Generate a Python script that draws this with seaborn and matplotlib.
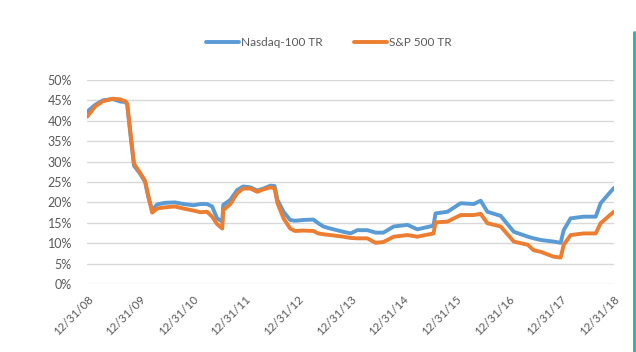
import pandas as pd
import numpy as np
import matplotlib
matplotlib.use("Agg")
import matplotlib.pyplot as plt
from matplotlib.lines import Line2D
from matplotlib.ticker import FuncFormatter
import seaborn as sns

dates = ["2008-12-31", "2009-02-25", "2009-04-20", "2009-06-28", "2009-08-18",
         "2009-09-20", "2009-10-05", "2009-10-26", "2009-11-21", "2010-01-03",
         "2010-02-06", "2010-02-27", "2010-03-27", "2010-04-30", "2010-06-24",
         "2010-09-01", "2010-10-30", "2011-01-07", "2011-02-24", "2011-04-12",
         "2011-05-17", "2011-06-20", "2011-07-26", "2011-08-02", "2011-09-20",
         "2011-11-06", "2011-12-18", "2012-02-05", "2012-03-25", "2012-05-07",
         "2012-06-25", "2012-07-23", "2012-08-12", "2012-09-23", "2012-11-08",
         "2012-12-12", "2013-02-09", "2013-04-18", "2013-05-22", "2013-06-26",
         "2013-08-13", "2013-11-12", "2014-01-01", "2014-02-17", "2014-04-27",
         "2014-06-23", "2014-08-17", "2014-10-27", "2015-01-31", "2015-04-09",
         "2015-07-30", "2015-08-13", "2015-11-04", "2016-02-03", "2016-05-04",
         "2016-06-21", "2016-08-07", "2016-11-07", "2017-02-06", "2017-05-15",
         "2017-06-23", "2017-08-11", "2017-11-10", "2017-12-28", "2018-01-18",
         "2018-03-07", "2018-06-05", "2018-08-28", "2018-10-01", "2018-12-31"]

nasdaq = [42.2, 43.9, 45.0, 45.3, 44.7, 44.6, 44.0, 37.0, 29.0, 27.0,
          25.0, 21.5, 18.0, 19.5, 19.9, 20.0, 19.6, 19.3, 19.6, 19.6,
          19.0, 16.1, 15.3, 19.4, 20.6, 23.0, 23.9, 23.7, 22.9, 23.4,
          24.1, 24.0, 20.6, 17.7, 15.7, 15.5, 15.7, 15.8, 14.9, 14.1,
          13.6, 12.8, 12.4, 13.2, 13.2, 12.6, 12.6, 14.1, 14.5, 13.4,
          14.3, 17.3, 17.7, 19.8, 19.6, 20.4, 17.7, 16.7, 12.8, 11.6,
          11.2, 10.8, 10.4, 10.1, 13.2, 16.1, 16.5, 16.5, 19.8, 23.5]

sp500 = [41.0, 43.5, 44.8, 45.4, 45.2, 44.8, 44.2, 37.5, 29.5, 27.2,
         25.3, 21.8, 17.5, 18.5, 18.8, 19.0, 18.5, 18.0, 17.6, 17.7,
         16.5, 14.7, 13.6, 18.1, 19.6, 22.2, 23.4, 23.4, 22.6, 23.2,
         23.7, 23.4, 19.8, 16.1, 13.6, 13.0, 13.1, 13.0, 12.4, 12.2,
         12.0, 11.6, 11.3, 11.2, 11.2, 10.1, 10.3, 11.6, 12.0, 11.6,
         12.4, 15.1, 15.3, 16.9, 16.9, 17.2, 14.9, 14.1, 10.4, 9.6,
         8.3, 7.9, 6.7, 6.5, 9.6, 12.0, 12.4, 12.4, 14.9, 17.7]

series_names = ["Nasdaq-100 TR", "S&P 500 TR"]
tick_dates = ["2008-12-31", "2009-12-31", "2010-12-31", "2011-12-31", "2012-12-31",
              "2013-12-31", "2014-12-31", "2015-12-31", "2016-12-31", "2017-12-31",
              "2018-12-31"]
tick_labels = ["12/31/08", "12/31/09", "12/31/10", "12/31/11", "12/31/12",
               "12/31/13", "12/31/14", "12/31/15", "12/31/16", "12/31/17",
               "12/31/18"]

df = pd.DataFrame({
    "Date": pd.to_datetime(dates * 2),
    "Value": nasdaq + sp500,
    "Series": [series_names[0]] * len(dates) + [series_names[1]] * len(dates),
})

sns.set_style("white")
plt.rcParams["font.family"] = ["Lato", "DejaVu Sans"]

fig = plt.figure(figsize=(6.36, 3.52), dpi=100)
ax = fig.add_axes([0.137, 0.193, 0.828, 0.580])

colors = ["#5b9bd5", "#ed7d31"]
sns.lineplot(data=df, x="Date", y="Value", hue="Series",
             palette=colors, linewidth=2.8, ax=ax, legend=False)

ax.set_ylim(0, 50)
ax.set_yticks(np.arange(0, 51, 5))
ax.yaxis.set_major_formatter(FuncFormatter(lambda v, p: f"{v:.0f}%"))
ax.set_xlim(pd.Timestamp(tick_dates[0]), pd.Timestamp(tick_dates[-1]))
ax.set_xticks(pd.to_datetime(tick_dates))
ax.set_xticklabels(tick_labels, rotation=45, ha="right", rotation_mode="anchor")
ax.grid(axis="y", color="#d9d9d9", linewidth=1)
ax.set_axisbelow(True)
for s in ax.spines.values():
    s.set_visible(False)
ax.tick_params(axis="both", length=0, colors="#595959")
ax.tick_params(axis="y", labelsize=9, pad=11)
ax.tick_params(axis="x", labelsize=8.3, pad=7)
ax.set_xlabel("")
ax.set_ylabel("")

handles = [Line2D([0], [0], color=c, lw=2.8) for c in colors]
fig.legend(handles, series_names, loc="center", bbox_to_anchor=(0.517, 0.88),
           ncol=2, frameon=False, fontsize=8.5, handlelength=2.8,
           handletextpad=0.2, columnspacing=2.6, labelcolor="#595959")

fig.add_artist(Line2D([0.997, 0.997], [0.0, 0.91], transform=fig.transFigure,
                      color="#21b3a8", linewidth=2))

fig.savefig("out.png", dpi=100)
